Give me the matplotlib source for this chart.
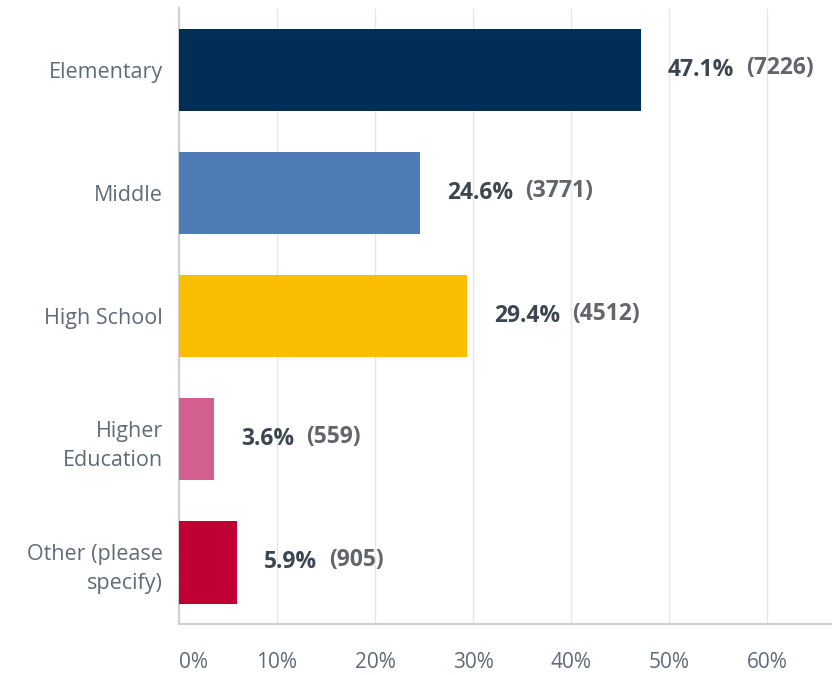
import matplotlib.pyplot as plt
from matplotlib.ticker import FixedLocator

# categorias y valores de la encuesta
categorias = ["Elementary", "Middle", "High School", "Higher\nEducation", "Other (please\nspecify)"]
porcentajes = [47.1, 24.6, 29.4, 3.6, 5.9]
conteos = [7226, 3771, 4512, 559, 905]
colores = ["#002e55", "#507cb6", "#f9be00", "#d25f90", "#c00032"]
ticks = [0, 10, 20, 30, 40, 50, 60]
etiquetas_ticks = ["0%", "10%", "20%", "30%", "40%", "50%", "60%"]

plt.rcParams['font.family'] = ['Open Sans', 'DejaVu Sans']

fig = plt.figure(figsize=(8.32, 6.75), dpi=100)
ax = fig.add_axes([179 / 832, 1 - 624 / 675, 1 - 179 / 832, (624 - 8.5) / 675])

y = list(range(len(categorias)))
ax.barh(y, porcentajes, height=0.667, color=colores, zorder=3)

ax.set_ylim(len(categorias) - 0.5, -0.5)
ax.set_xlim(0, 66.6)

ax.set_yticks(y)
ax.set_yticklabels(categorias, fontsize=15.5, color="#5f6b78", linespacing=1.5)
ax.xaxis.set_major_locator(FixedLocator(ticks))
ax.set_xticklabels(etiquetas_ticks, fontsize=15, color="#5f6b78")
ax.tick_params(axis="y", length=0, pad=11.5)
ax.tick_params(axis="x", length=0, pad=20)
ax.get_xticklabels()[0].set_horizontalalignment("left")

ax.grid(axis="x", color="#e6e6e6", linewidth=1, zorder=0)
for lado in ["top", "right"]:
    ax.spines[lado].set_visible(False)
for lado in ["left", "bottom"]:
    ax.spines[lado].set_color("#cfcfcf")
    ax.spines[lado].set_linewidth(1.5)

# etiquetas de valor
fig.canvas.draw()
renderer = fig.canvas.get_renderer()
for i, (p, c) in enumerate(zip(porcentajes, conteos)):
    t = ax.annotate("%.1f%%" % p, (p, i), xytext=(19.5, 0), textcoords="offset points",
                    ha="left", va="center", fontsize=16.5, fontweight="bold", color="#3c4651")
    bb = t.get_window_extent(renderer)
    x_px = bb.x1 + 12
    xd = ax.transData.inverted().transform((x_px, 0))[0]
    ax.text(xd, i - 0.02, "(%d)" % c, ha="left", va="center", fontsize=16.5,
            fontweight="bold", color="#62666b")

fig.savefig("out.png", dpi=100)
